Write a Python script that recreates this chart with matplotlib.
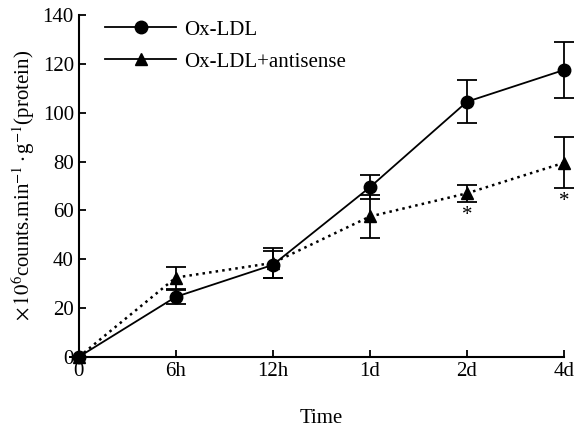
import numpy as np
import matplotlib.pyplot as plt
from matplotlib.lines import Line2D

plt.rcParams['font.family'] = ['Liberation Serif', 'DejaVu Serif']
plt.rcParams['mathtext.fontset'] = 'stix'

etiquetas = ['0', '6h', '12h', '1d', '2d', '4d']
oxldl = [0, 24.6, 37.7, 69.5, 104.5, 117.5]
oxldl_err = [0, 2.8, 5.5, 4.8, 8.8, 11.5]
antis = [0, 32.5, 38.5, 57.5, 67, 79.5]
antis_err = [0, 4.5, 6.0, 9.0, 3.5, 10.5]
asterisco = [4, 5]  # indices con diferencia significativa

x = np.arange(len(etiquetas))

fig = plt.figure(figsize=(5.75, 4.29), dpi=100)
ax = fig.add_axes([0.137, 0.168, 0.844, 0.797])

e1 = ax.errorbar(x, oxldl, yerr=oxldl_err, fmt='o-', color='black', markersize=9,
                 linewidth=1.3, capsize=7, elinewidth=1.3, capthick=1.3)
e2 = ax.errorbar(x, antis, yerr=antis_err, fmt='^:', color='black', markersize=9,
                 linewidth=1.8, capsize=7, elinewidth=1.3, capthick=1.3)
for e in [e1, e2]:
    for art in e.get_children():
        art.set_clip_on(False)

for i in asterisco:
    ax.text(x[i], antis[i] - antis_err[i] - 1.5, '*', ha='center', va='top', fontsize=15)

ax.set_xlim(0, 5)
ax.set_ylim(0, 140)
ax.set_xticks(x)
ax.set_xticklabels(etiquetas)
ax.set_yticks(np.arange(0, 141, 20))
ax.spines['top'].set_visible(False)
ax.spines['right'].set_visible(False)
ax.spines['left'].set_linewidth(1.5)
ax.spines['bottom'].set_linewidth(1.5)
ax.tick_params(direction='in', length=5, width=1.3, labelsize=15)
ax.set_xlabel('Time', fontsize=15, labelpad=20)
ax.set_ylabel(r'$\times\,10^6$counts.min$^{-1}\cdot$g$^{-1}$(protein)', fontsize=15)

h1 = Line2D([], [], color='black', marker='o', markersize=9, linewidth=1.3)
h2 = Line2D([], [], color='black', marker='^', markersize=9, linewidth=1.3)
ax.legend([h1, h2], ['Ox-LDL', 'Ox-LDL+antisense'], loc='upper left', frameon=False,
          fontsize=15, bbox_to_anchor=(0.016, 1.04), handlelength=3.4,
          handletextpad=0.4, labelspacing=0.6)

fig.savefig('out.png', dpi=100)
